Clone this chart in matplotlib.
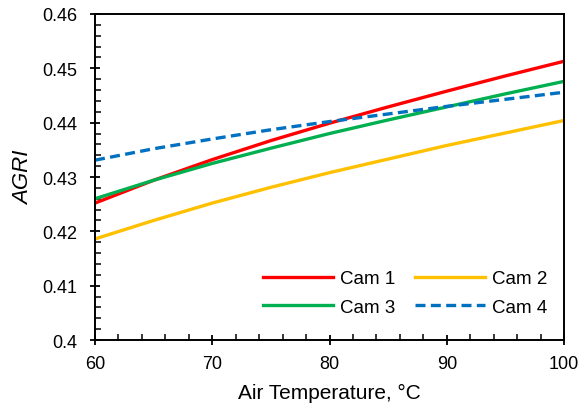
import matplotlib
matplotlib.use("Agg")
import matplotlib.pyplot as plt
from matplotlib.ticker import MultipleLocator

plt.rcParams['font.family'] = ['Liberation Sans', 'DejaVu Sans']

temps = [60, 65, 70, 75, 80, 85, 90, 95, 100]
cam1 = [0.4252, 0.4294, 0.4332, 0.4367, 0.4399, 0.4429, 0.4458, 0.4486, 0.4513]
cam2 = [0.4186, 0.4220, 0.4252, 0.4281, 0.4308, 0.4333, 0.4358, 0.4381, 0.4404]
cam3 = [0.4260, 0.4294, 0.4325, 0.4353, 0.4380, 0.4405, 0.4429, 0.4453, 0.4476]
cam4 = [0.4331, 0.4352, 0.4370, 0.4387, 0.4402, 0.4416, 0.4430, 0.4443, 0.4456]

fig = plt.figure(figsize=(5.86, 4.10), dpi=100)
ax = fig.add_axes([95/586, 1 - 341/410, (564-95)/586, (341-15)/410])

lw = 2.4
l1, = ax.plot(temps, cam1, color='#FF0000', lw=lw, label='Cam 1')
l2, = ax.plot(temps, cam2, color='#FFC000', lw=lw, label='Cam 2')
l3, = ax.plot(temps, cam3, color='#00B050', lw=lw, label='Cam 3')
l4, = ax.plot(temps, cam4, color='#0070C0', lw=lw, ls=(0, (3.0, 1.6)), label='Cam 4')

ax.set_xlim(60, 100)
ax.set_ylim(0.40, 0.46)
ax.xaxis.set_major_locator(MultipleLocator(10))
ax.xaxis.set_minor_locator(MultipleLocator(2))
ax.yaxis.set_major_locator(MultipleLocator(0.01))
ax.yaxis.set_minor_locator(MultipleLocator(0.002))
ax.yaxis.set_major_formatter(plt.FuncFormatter(
    lambda v, p: '0.4' if abs(v - 0.4) < 1e-9 else '%.2f' % v))

ax.tick_params(which='major', direction='inout', length=7, width=1.3, labelsize=13)
ax.tick_params(axis='x', which='major', pad=7)
ax.tick_params(axis='y', which='major', pad=9)
ax.tick_params(which='minor', direction='in', length=4, width=1.1)
for s in ax.spines.values():
    s.set_linewidth(1.4)
    s.set_color('black')

ax.set_xlabel('Air Temperature, °C', fontsize=15, labelpad=8)
ax.set_ylabel('AGRI', fontsize=16, style='italic', labelpad=6)

leg = ax.legend(handles=[l1, l3, l2, l4], ncol=2, frameon=False, fontsize=13.5,
                loc='lower right', bbox_to_anchor=(1.0, 0.022), handlelength=3.7,
                columnspacing=1.1, handletextpad=0.37, labelspacing=0.62)

fig.savefig('out.png', dpi=100)
